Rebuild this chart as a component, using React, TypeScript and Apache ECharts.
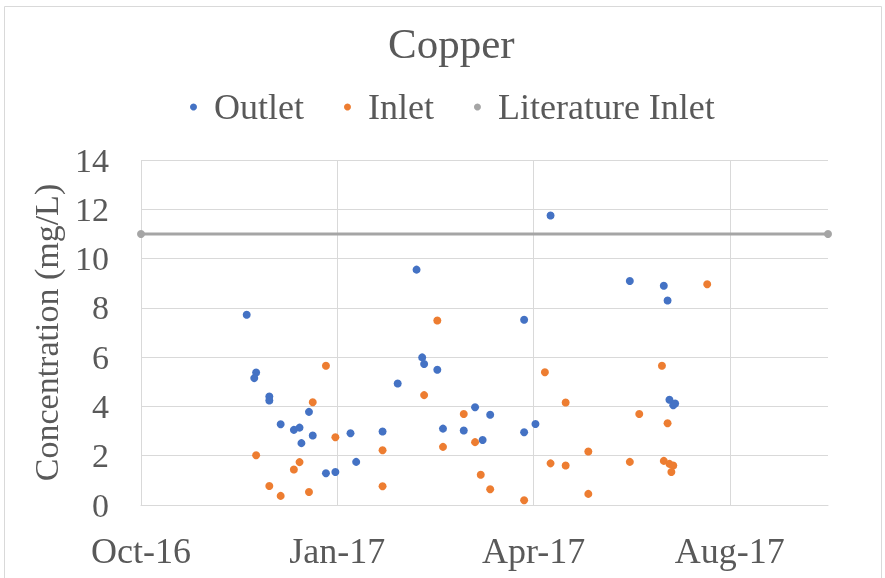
import React, { useEffect, useRef } from "react";
import * as echarts from "echarts";

const titleText = "Copper";
const seriesNames = ["Outlet", "Inlet", "Literature Inlet"];
const yAxisName = "Concentration (mg/L)";

const outletDates = [
  "2016-11-26", "2016-12-01", "2016-11-30", "2016-12-08", "2016-12-08", "2016-12-29",
  "2016-12-14", "2016-12-21", "2016-12-24", "2016-12-31", "2016-12-25", "2017-01-07",
  "2017-01-12", "2017-01-20", "2017-01-23", "2017-02-06", "2017-02-14", "2017-02-24",
  "2017-02-27", "2017-02-28", "2017-03-07", "2017-03-10", "2017-03-21", "2017-03-27",
  "2017-04-04", "2017-03-31", "2017-04-22", "2017-04-22", "2017-04-28", "2017-05-06",
  "2017-06-17", "2017-07-05", "2017-07-07", "2017-07-08", "2017-07-10", "2017-07-11",
];
const outletValues = [
  7.72, 5.38, 5.15, 4.4, 4.24, 3.78,
  3.28, 3.05, 3.14, 2.82, 2.51, 1.29,
  1.34, 2.91, 1.75, 2.98, 4.93, 9.55,
  5.99, 5.72, 5.49, 3.1, 3.02, 3.97,
  3.66, 2.64, 7.52, 2.95, 3.29, 11.75,
  9.09, 8.9, 8.3, 4.27, 4.05, 4.12,
];

const inletDates = [
  "2017-01-07", "2016-12-31", "2017-01-12", "2016-12-01", "2016-12-24", "2016-12-21",
  "2016-12-08", "2016-12-14", "2016-12-29", "2017-03-07", "2017-02-28", "2017-02-06",
  "2017-03-10", "2017-02-06", "2017-03-21", "2017-03-27", "2017-03-30", "2017-04-04",
  "2017-04-22", "2017-05-03", "2017-05-06", "2017-05-14", "2017-05-14", "2017-05-26",
  "2017-05-26", "2017-06-17", "2017-06-22", "2017-07-04", "2017-07-07", "2017-07-05",
  "2017-07-08", "2017-07-10", "2017-07-09", "2017-07-28",
];
const inletValues = [
  5.65, 4.17, 2.75, 2.02, 1.74, 1.44,
  0.77, 0.37, 0.53, 7.49, 4.46, 2.22,
  2.36, 0.76, 3.69, 2.55, 1.23, 0.64,
  0.19, 5.39, 1.69, 4.16, 1.6, 2.17,
  0.45, 1.75, 3.69, 5.65, 3.32, 1.79,
  1.67, 1.6, 1.34, 8.96,
];

const literatureDates = ["2016-10-01", "2017-09-30"];
const literatureValues = [11, 11];

const axisStartDate = "2016-10-01";
const axisEndDate = "2017-09-30";
const axisStepDays = 104;
const yMin = 0;
const yMax = 14;
const yStep = 2;

const monthNames = ["Jan", "Feb", "Mar", "Apr", "May", "Jun", "Jul", "Aug", "Sep", "Oct", "Nov", "Dec"];
const DAY = 86400000;
const toUtc = (s: string) => {
  const [y, m, d] = s.split("-").map(Number);
  return Date.UTC(y, m - 1, d);
};
const origin = toUtc(axisStartDate);
const dayOf = (s: string) => Math.round((toUtc(s) - origin) / DAY);
const fmtDay = (v: number) => {
  const d = new Date(origin + v * DAY);
  return monthNames[d.getUTCMonth()] + "-" + String(d.getUTCFullYear() % 100).padStart(2, "0");
};

const FONT = "Liberation Serif";
const TEXT = "#595959";
const GRID = "#D9D9D9";

export default function App() {
  const ref = useRef<HTMLDivElement>(null);
  useEffect(() => {
    if (!ref.current) return;
    const chart = echarts.init(ref.current, null, { renderer: "svg" });
    const outlet = outletDates.map((d, i) => [dayOf(d), outletValues[i]]);
    const inlet = inletDates.map((d, i) => [dayOf(d), inletValues[i]]);
    const lit = literatureDates.map((d, i) => [dayOf(d), literatureValues[i]]);
    chart.setOption({
      animation: false,
      textStyle: { fontFamily: FONT },
      title: {
        text: titleText,
        left: 388,
        top: 22,
        padding: 0,
        textStyle: { fontFamily: FONT, fontSize: 43, fontWeight: "normal", color: TEXT },
      },
      legend: {
        top: 89,
        left: 190,
        padding: 0,
        icon: "circle",
        itemWidth: 7,
        itemHeight: 7,
        itemGap: 40,
        data: seriesNames,
        textStyle: { fontFamily: FONT, fontSize: 36, color: TEXT, padding: [0, 0, 0, 12] },
      },
      grid: { left: 141, right: 57, top: 160, bottom: 73 },
      xAxis: {
        type: "value",
        min: 0,
        max: dayOf(axisEndDate),
        interval: axisStepDays,
        axisLine: { show: true, lineStyle: { color: GRID, width: 1 } },
        axisTick: { show: false },
        axisLabel: {
          showMaxLabel: false,
          margin: 28,
          fontFamily: FONT,
          fontSize: 36,
          color: TEXT,
          formatter: (v: number) => fmtDay(v),
        },
        splitLine: { show: true, showMaxLine: false, lineStyle: { color: GRID, width: 1 } },
      },
      yAxis: {
        type: "value",
        min: yMin,
        max: yMax,
        interval: yStep,
        name: yAxisName,
        nameLocation: "middle",
        nameGap: 78,
        nameTextStyle: { fontFamily: FONT, fontSize: 34, color: TEXT },
        axisLine: { show: false },
        axisTick: { show: false },
        axisLabel: { margin: 32, fontFamily: FONT, fontSize: 34, color: TEXT },
        splitLine: { show: true, lineStyle: { color: GRID, width: 1 } },
      },
      series: [
        {
          name: seriesNames[0],
          type: "scatter",
          data: outlet,
          symbol: "circle",
          symbolSize: 8,
          itemStyle: { color: "#4472C4", opacity: 1 },
          z: 3,
        },
        {
          name: seriesNames[1],
          type: "scatter",
          data: inlet,
          symbol: "circle",
          symbolSize: 8,
          itemStyle: { color: "#ED7D31", opacity: 1 },
          z: 3,
        },
        {
          name: seriesNames[2],
          type: "line",
          data: lit,
          symbol: "circle",
          symbolSize: 8,
          showSymbol: true,
          clip: false,
          lineStyle: { color: "#A5A5A5", width: 3 },
          itemStyle: { color: "#A5A5A5" },
          z: 2,
        },
      ],
      graphic: [
        {
          type: "rect",
          shape: { x: 4.5, y: 6.5, width: 877, height: 590 },
          style: { fill: "none", stroke: GRID, lineWidth: 1 },
          silent: true,
        },
      ],
    });
    return () => chart.dispose();
  }, []);
  return (
    <div
      ref={ref}
      style={{ position: "fixed", left: 0, top: 0, width: 885, height: 578 }}
    />
  );
}
